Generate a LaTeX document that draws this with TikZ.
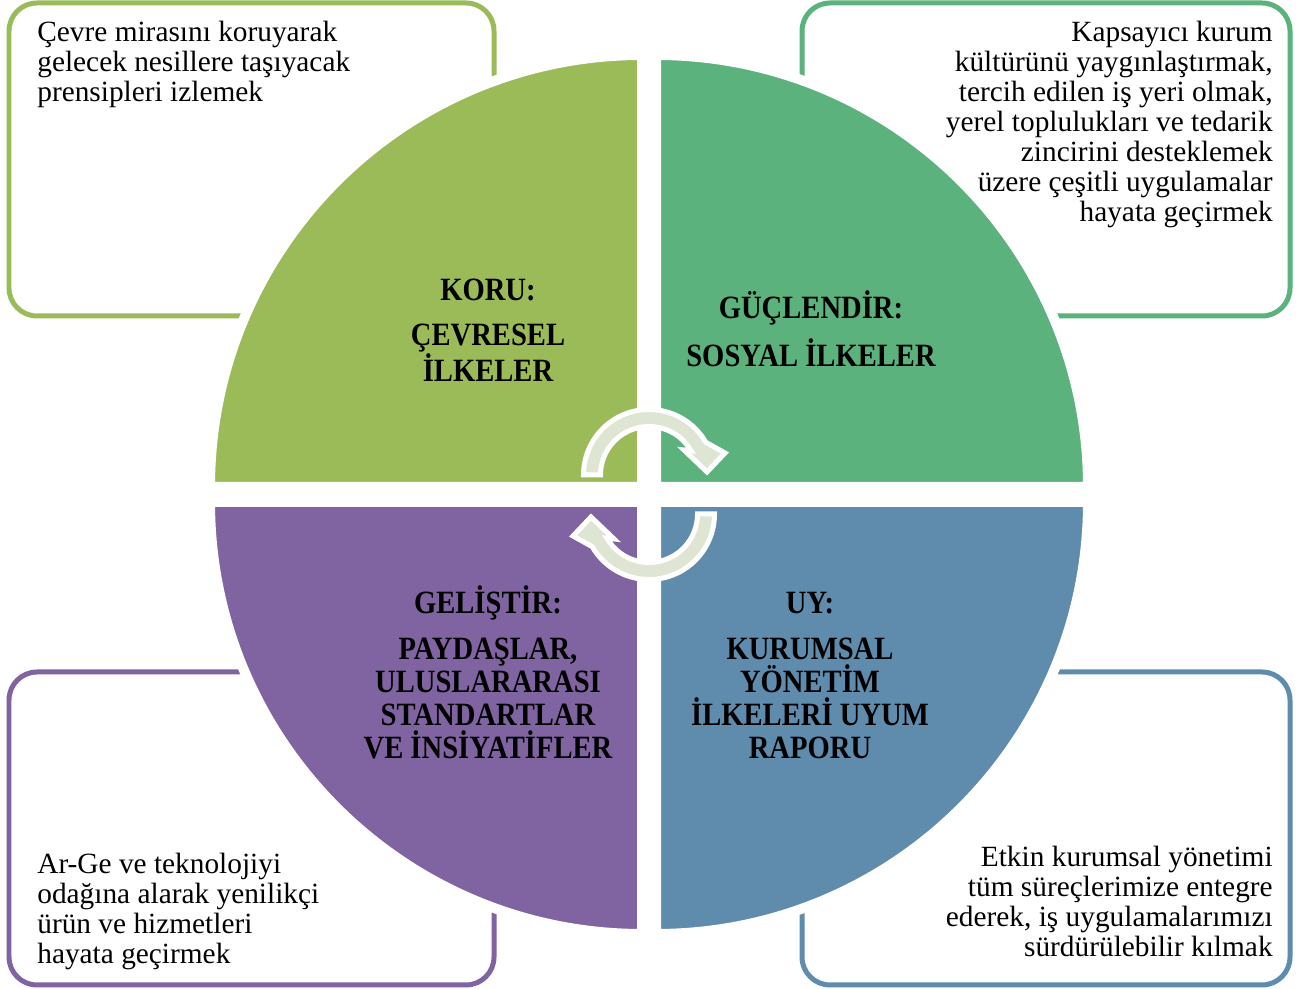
\documentclass[tikz,border=0pt]{standalone}
\usepackage{fontspec}
\setmainfont{Liberation Serif}
\newfontfamily\lblfont[FakeStretch=0.88]{Liberation Serif}
\usetikzlibrary{positioning,calc}
\definecolor{koruGreen}{HTML}{9BBB59}
\definecolor{socGreen}{HTML}{5CB27C}
\definecolor{devPurple}{HTML}{8064A1}
\definecolor{govBlue}{HTML}{5F8BAD}
\definecolor{cycFill}{HTML}{DEE5D2}
\tikzset{
	box/.style={line width=0.1cm, rounded corners=0.56cm},
	quad/.style={draw=white, line width=0.2cm},
	desc/.style={inner sep=0, font=\fontsize{16.7}{17.1}\selectfont},
	lbl/.style={inner sep=0, align=center, font=\lblfont\bfseries\fontsize{18.5}{18.9}\selectfont},
	cyc/.style={fill=cycFill, draw=white, line width=0.1cm, line join=miter},
}
\begin{document}
\begin{tikzpicture}[x=0.02cm, y=0.02cm]
		\def\R{432}
		\def\ro{65.5}
		\def\ri{48.5}
		\useasboundingbox (0,0) rectangle (1301,989);
		% corner boxes
		\draw[box, koruGreen] (9,986) rectangle (494,673);
		\draw[box, socGreen] (802,986) rectangle (1290,673);
		\draw[box, devPurple] (9,317) rectangle (494,4);
		\draw[box, govBlue] (802,317) rectangle (1290,4);
		% quadrants
		\filldraw[quad, fill=koruGreen] (642,502) -- (642,502+\R) arc[start angle=90, end angle=180, radius=\R] -- cycle;
		\filldraw[quad, fill=socGreen] (656,502) -- (656+\R,502) arc[start angle=0, end angle=90, radius=\R] -- cycle;
		\filldraw[quad, fill=devPurple] (642,487) -- (642-\R,487) arc[start angle=180, end angle=270, radius=\R] -- cycle;
		\filldraw[quad, fill=govBlue] (656,487) -- (656,487-\R) arc[start angle=270, end angle=360, radius=\R] -- cycle;
		% cycle arrows
		\foreach \cx/\cy/\rot in {649/514/0, 649/475/180}{
			\begin{scope}[shift={(\cx,\cy)}, rotate=\rot]
				\filldraw[cyc] (180:\ro) arc[start angle=180, end angle=30, radius=\ro] -- (76,22) -- (58,3) -- (35,25) -- (30:\ri) arc[start angle=30, end angle=180, radius=\ri] -- cycle;
			\end{scope}
		}
		% texts (base = last line)
		\node[desc, align=left, anchor=base west] (tKoru) at (37,887) {Çevre mirasını koruyarak\\gelecek nesillere taşıyacak\\prensipleri izlemek};
		\node[desc, align=right, anchor=base east] (tSoc) at (1273,767) {Kapsayıcı kurum\\kültürünü yaygınlaştırmak,\\tercih edilen iş yeri olmak,\\yerel toplulukları ve tedarik\\zincirini desteklemek\\üzere çeşitli uygulamalar\\hayata geçirmek};
		\node[desc, align=left, anchor=base west] (tDev) at (37,25) {Ar-Ge ve teknolojiyi\\odağına alarak yenilikçi\\ürün ve hizmetleri\\hayata geçirmek};
		\node[desc, align=right, anchor=base east] (tGov) at (1273,32) {Etkin kurumsal yönetimi\\tüm süreçlerimize entegre\\ederek, iş uygulamalarımızı\\sürdürülebilir kılmak};
		\node[lbl, anchor=base] (koru) at (488,607) {KORU:\\[7pt]ÇEVRESEL\\İLKELER};
		\node[lbl, anchor=base] (guclen) at (811,622) {GÜÇLENDİR:\\[7pt]SOSYAL İLKELER};
		\node[lbl, anchor=base] (gelis) at (488,230) {GELİŞTİR:\\[7pt]PAYDAŞLAR,\\ULUSLARARASI\\STANDARTLAR\\VE İNSİYATİFLER};
		\node[lbl, anchor=base] (uy) at (810,230) {UY:\\[7pt]KURUMSAL\\YÖNETİM\\İLKELERİ UYUM\\RAPORU};
	\end{tikzpicture}
\end{document}
